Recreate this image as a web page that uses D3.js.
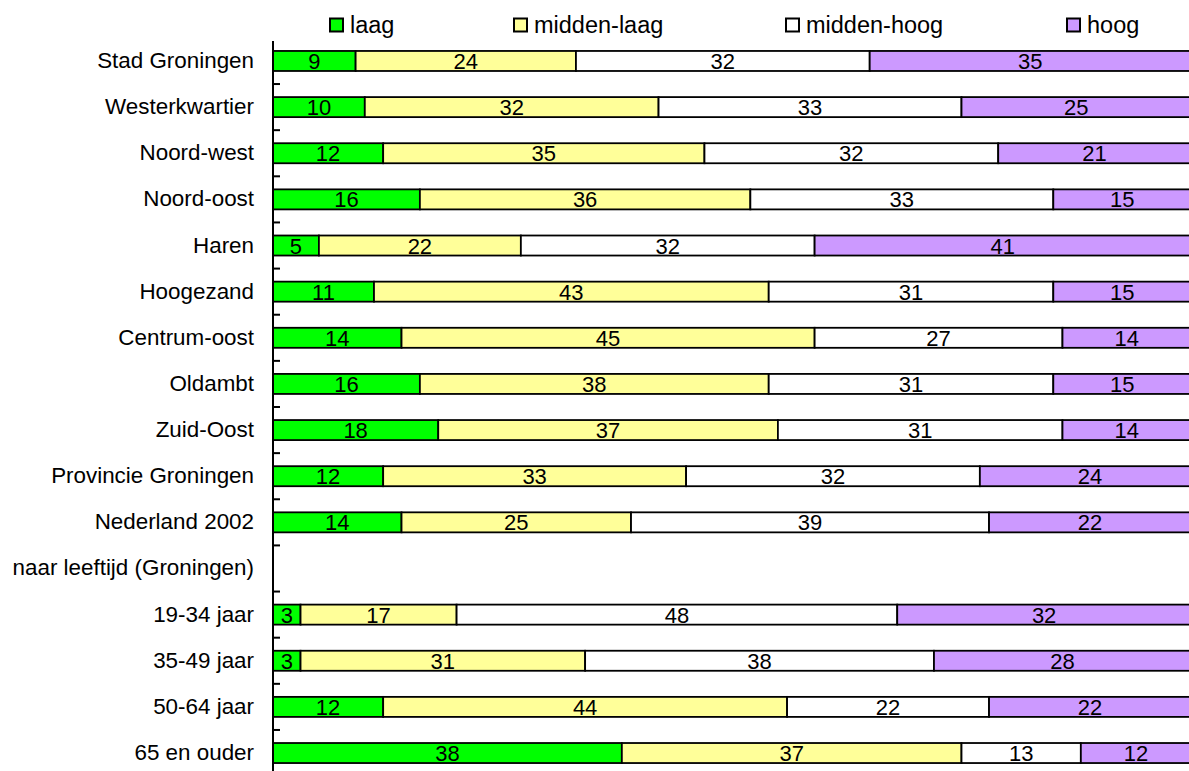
<!DOCTYPE html>
<html lang="nl">
<head>
<meta charset="UTF-8">
<title>Opleidingsniveau per regio</title>
<script src="https://d3js.org/d3.v7.min.js"></script>
<style>
  body { margin: 0; padding: 0; background: #fff; overflow: hidden; }
  svg { display: block; font-family: "Liberation Sans", Arial, Helvetica, sans-serif; }
  .cat-label { font-size: 22.4px; fill: #000; }
  .legend-label { font-size: 23.5px; fill: #000; }
  .val-label { font-size: 22px; fill: #000; }
  .seg { stroke: #000; stroke-width: 1.8; }
</style>
</head>
<body>
<svg id="chart" width="1189" height="771"></svg>
<script>
// categories top to bottom
const categories = [
  "Stad Groningen", "Westerkwartier", "Noord-west", "Noord-oost", "Haren",
  "Hoogezand", "Centrum-oost", "Oldambt", "Zuid-Oost", "Provincie Groningen",
  "Nederland 2002", "naar leeftijd (Groningen)", "19-34 jaar", "35-49 jaar",
  "50-64 jaar", "65 en ouder"
];

// series values (percentages); null = no bar
const laag       = [9, 10, 12, 16, 5, 11, 14, 16, 18, 12, 14, null, 3, 3, 12, 38];
const middenLaag = [24, 32, 35, 36, 22, 43, 45, 38, 37, 33, 25, null, 17, 31, 44, 37];
const middenHoog = [32, 33, 32, 33, 32, 31, 27, 31, 31, 32, 39, null, 48, 38, 22, 13];
const hoog       = [35, 25, 21, 15, 41, 15, 14, 15, 14, 24, 22, null, 32, 28, 22, 12];

const seriesNames = ["laag", "midden-laag", "midden-hoog", "hoog"];
const seriesColors = ["#00ff00", "#ffff99", "#ffffff", "#cc99ff"];

// build rows for d3.stack
const rows = categories.map((c, i) => ({
  cat: c,
  "laag": laag[i] || 0,
  "midden-laag": middenLaag[i] || 0,
  "midden-hoog": middenHoog[i] || 0,
  "hoog": hoog[i] || 0,
  empty: laag[i] == null
}));

const svg = d3.select("#chart");

const x = d3.scaleLinear().domain([0, 100]).range([273, 1191]);
const y = d3.scaleBand()
  .domain(categories)
  .range([37.9, 776.1])
  .paddingInner(0.566)
  .paddingOuter(0.283);

const stacked = d3.stack().keys(seriesNames)(rows);

// bars
const layers = svg.append("g")
  .selectAll("g")
  .data(stacked)
  .join("g")
  .attr("fill", (d, i) => seriesColors[i]);

layers.selectAll("rect")
  .data(d => d.filter(s => !s.data.empty))
  .join("rect")
  .attr("class", "seg")
  .attr("x", d => x(d[0]))
  .attr("y", d => y(d.data.cat))
  .attr("width", d => x(d[1]) - x(d[0]))
  .attr("height", y.bandwidth());

// value labels
layers.selectAll("text")
  .data(d => d.filter(s => !s.data.empty))
  .join("text")
  .attr("class", "val-label")
  .attr("text-anchor", "middle")
  .attr("x", d => x((d[0] + d[1]) / 2))
  .attr("y", d => y(d.data.cat) + y.bandwidth() / 2 + 8)
  .text(d => d[1] - d[0]);

// category axis
const axis = svg.append("g");
axis.append("line")
  .attr("x1", x(0)).attr("x2", x(0))
  .attr("y1", 41).attr("y2", 771)
  .attr("stroke", "#000").attr("stroke-width", 2);

// ticks between categories, pointing into the plot
axis.selectAll(".tick")
  .data(categories.slice(1))
  .join("line")
  .attr("class", "tick")
  .attr("x1", x(0)).attr("x2", x(0) + 7)
  .attr("y1", d => y(d) - y.step() * y.paddingInner() / 2)
  .attr("y2", d => y(d) - y.step() * y.paddingInner() / 2)
  .attr("stroke", "#000").attr("stroke-width", 2);

axis.selectAll(".cat-label")
  .data(categories)
  .join("text")
  .attr("class", "cat-label")
  .attr("text-anchor", "end")
  .attr("x", x(0) - 19)
  .attr("y", d => y(d) + y.bandwidth() / 2 + 7)
  .text(d => d);

// legend
const legendX = [329, 513, 785, 1066];
const legend = svg.append("g")
  .selectAll("g")
  .data(seriesNames)
  .join("g")
  .attr("transform", (d, i) => `translate(${legendX[i]},0)`);

legend.append("rect")
  .attr("x", 1).attr("y", 18.5)
  .attr("width", 13).attr("height", 13)
  .attr("fill", (d, i) => seriesColors[i])
  .attr("stroke", "#000").attr("stroke-width", 2);

legend.append("text")
  .attr("class", "legend-label")
  .attr("x", 21).attr("y", 33)
  .text(d => d);
</script>
</body>
</html>
